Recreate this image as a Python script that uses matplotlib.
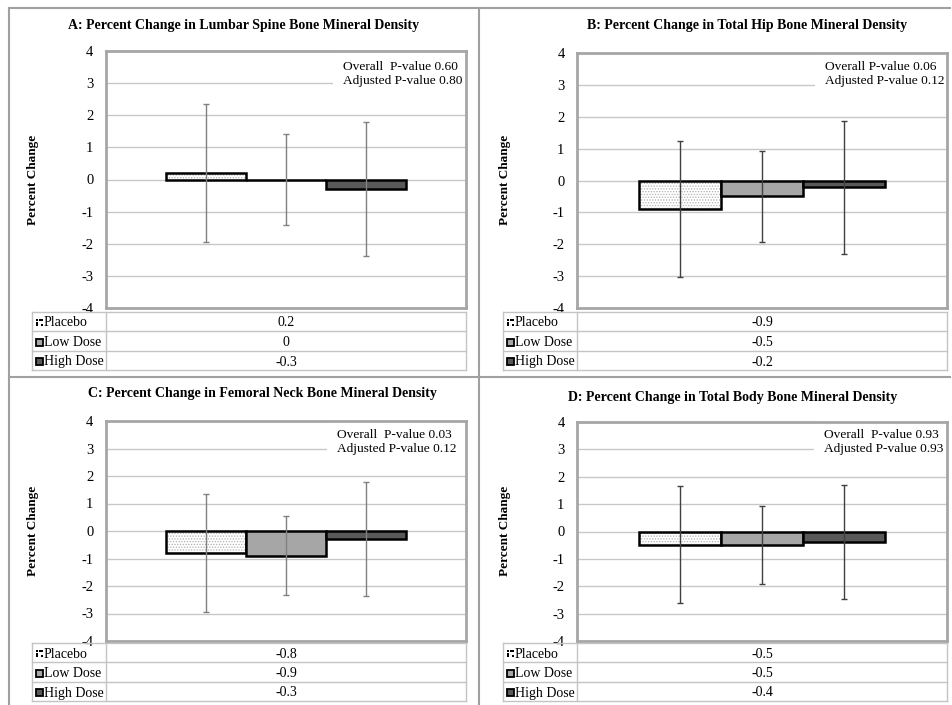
import matplotlib
matplotlib.use("Agg")
import matplotlib.pyplot as plt
from matplotlib.patches import Rectangle

plt.rcParams["font.family"] = ["Liberation Serif", "DejaVu Serif"]
plt.rcParams["hatch.linewidth"] = 0.6
plt.rcParams["axes.unicode_minus"] = False

W, H = 952, 705

groups = ["Placebo", "Low Dose", "High Dose"]
titles = ["A: Percent Change in Lumbar Spine Bone Mineral Density",
          "B: Percent Change in Total Hip Bone Mineral Density",
          "C: Percent Change in Femoral Neck Bone Mineral Density",
          "D: Percent Change in Total Body Bone Mineral Density"]
means = [[0.2, 0, -0.3], [-0.9, -0.5, -0.2], [-0.8, -0.9, -0.3], [-0.5, -0.5, -0.4]]
upper = [[2.34, 1.43, 1.79], [1.24, 0.92, 1.88], [1.36, 0.53, 1.79], [1.66, 0.93, 1.71]]
lower = [[-1.94, -1.43, -2.39], [-3.04, -1.93, -2.30], [-2.95, -2.32, -2.38], [-2.62, -1.92, -2.48]]
overall_p = ["Overall  P-value 0.60", "Overall P-value 0.06",
             "Overall  P-value 0.03", "Overall  P-value 0.93"]
adjusted_p = ["Adjusted P-value 0.80", "Adjusted P-value 0.12",
              "Adjusted P-value 0.12", "Adjusted P-value 0.93"]
table_vals = [["0.2", "0", "-0.3"], ["-0.9", "-0.5", "-0.2"],
              ["-0.8", "-0.9", "-0.3"], ["-0.5", "-0.5", "-0.4"]]
yticks = [4, 3, 2, 1, 0, -1, -2, -3, -4]

fills = ["white", "#a6a6a6", "#595959"]
err_cols = ["#808080", "#404040", "#808080", "#404040"]

# layout in pixels: plot box, table left, table row edges, title, ylabel, note
layout = [
    dict(box=(106, 51, 466, 308), tl=32, rows=(312, 331, 351, 370), title=(244, 26), yl=(33, 180), note=(343, 74)),
    dict(box=(577, 53, 947, 308), tl=503, rows=(312, 331, 351, 370), title=(747, 25), yl=(505, 180), note=(825, 74)),
    dict(box=(106, 421, 466, 641), tl=32, rows=(643, 662, 682, 701), title=(262, 394), yl=(33, 531), note=(337, 442)),
    dict(box=(577, 422, 947, 641), tl=503, rows=(643, 662, 682, 701), title=(733, 397), yl=(505, 531), note=(824, 442)),
]

fig = plt.figure(figsize=(W / 100, H / 100), dpi=100)

for i in range(4):
    L = layout[i]
    x0, y0, x1, y1 = L["box"]
    bw, bh = x1 - x0, y1 - y0
    ax = fig.add_axes([x0 / W, 1 - y1 / H, bw / W, bh / H])
    xs = range(len(groups))
    # placebo dotted fill
    ax.bar([0], [means[i][0]], width=1, color="white", edgecolor="#b0b0b0",
           hatch="......", linewidth=0, zorder=2)
    ax.bar(xs, means[i], width=1, color=[c if k else "none" for k, c in enumerate(fills)],
           edgecolor="black", linewidth=1.8, zorder=3)
    yerr = [[m - lo for m, lo in zip(means[i], lower[i])],
            [up - m for m, up in zip(means[i], upper[i])]]
    ax.errorbar(xs, means[i], yerr=yerr, fmt="none", ecolor=err_cols[i],
                elinewidth=1, capsize=2.5, capthick=1, zorder=4)
    ax.set_xlim(-1.25, 3.25)
    ax.set_ylim(-4, 4)
    ax.set_yticks(yticks)
    ax.set_xticks([])
    ax.yaxis.grid(True, color="#c8c8c8", lw=1)
    ax.set_axisbelow(True)
    ax.tick_params(axis="y", length=0, pad=9, labelsize=10.5)
    for s in ax.spines.values():
        s.set_color("#a6a6a6")
        s.set_linewidth(2)
        s.set_zorder(6)
    # p-value note on a white patch that hides the gridline behind it
    nx, ny = L["note"]
    fx = (nx - x0) / bw
    fy = 1 - (ny - y0) / bh
    ax.add_patch(Rectangle((fx - 10 / bw, 1 - (ny + 20 - y0) / bh), 1, 1,
                           transform=ax.transAxes, fc="white", ec="none", zorder=1.5))
    ax.text(fx, fy, overall_p[i] + "\n" + adjusted_p[i], transform=ax.transAxes,
            ha="left", va="center", fontsize=9.6, linespacing=1.25, zorder=5)

# overlay in pixel coordinates for frames, titles and data tables
ov = fig.add_axes([0, 0, 1, 1])
ov.set_xlim(0, W)
ov.set_ylim(H, 0)
ov.axis("off")
ov.patch.set_visible(False)

frame_c = "#a0a0a0"
ov.plot([9, 950], [8, 8], color=frame_c, lw=1.5)
ov.plot([9, 9], [8, 705], color=frame_c, lw=1.5)
ov.plot([479, 479], [8, 705], color=frame_c, lw=1.5)
ov.plot([9, 950], [377, 377], color=frame_c, lw=1.5)

for i in range(4):
    L = layout[i]
    x0, y0, x1, y1 = L["box"]
    ov.text(*L["title"], titles[i], ha="center", va="center", fontsize=10, fontweight="bold")
    ov.text(*L["yl"], "Percent Change", rotation=90, ha="center", va="center",
            fontsize=9.5, fontweight="bold")
    # data table under the plot
    tl = L["tl"]
    rows = L["rows"]
    tc = "#c4c4c4"
    for ry in rows:
        ov.plot([tl, x1], [ry, ry], color=tc, lw=1)
    for cx in (tl, x0, x1):
        ov.plot([cx, cx], [rows[0], rows[-1]], color=tc, lw=1)
    for r, g in enumerate(groups):
        cy = (rows[r] + rows[r + 1]) / 2 + 1
        kx = tl + 4
        if r == 0:
            ov.plot([kx + 1, kx + 6, kx + 1, kx + 6, kx + 3.5, kx + 1],
                    [cy - 2.5, cy - 2.5, cy + 2.5, cy + 2.5, cy - 3, cy],
                    ls="none", marker="s", ms=1.8, color="black", mew=0)
        else:
            ov.add_patch(Rectangle((kx, cy - 3.5), 7, 7, fc=fills[r], ec="black", lw=1.3))
        ov.text(kx + 8, cy + 0.5, g, ha="left", va="center", fontsize=10)
        ov.text((x0 + x1) / 2, cy + 0.5, table_vals[i][r], ha="center", va="center", fontsize=10)

fig.savefig("out.png", dpi=100)
